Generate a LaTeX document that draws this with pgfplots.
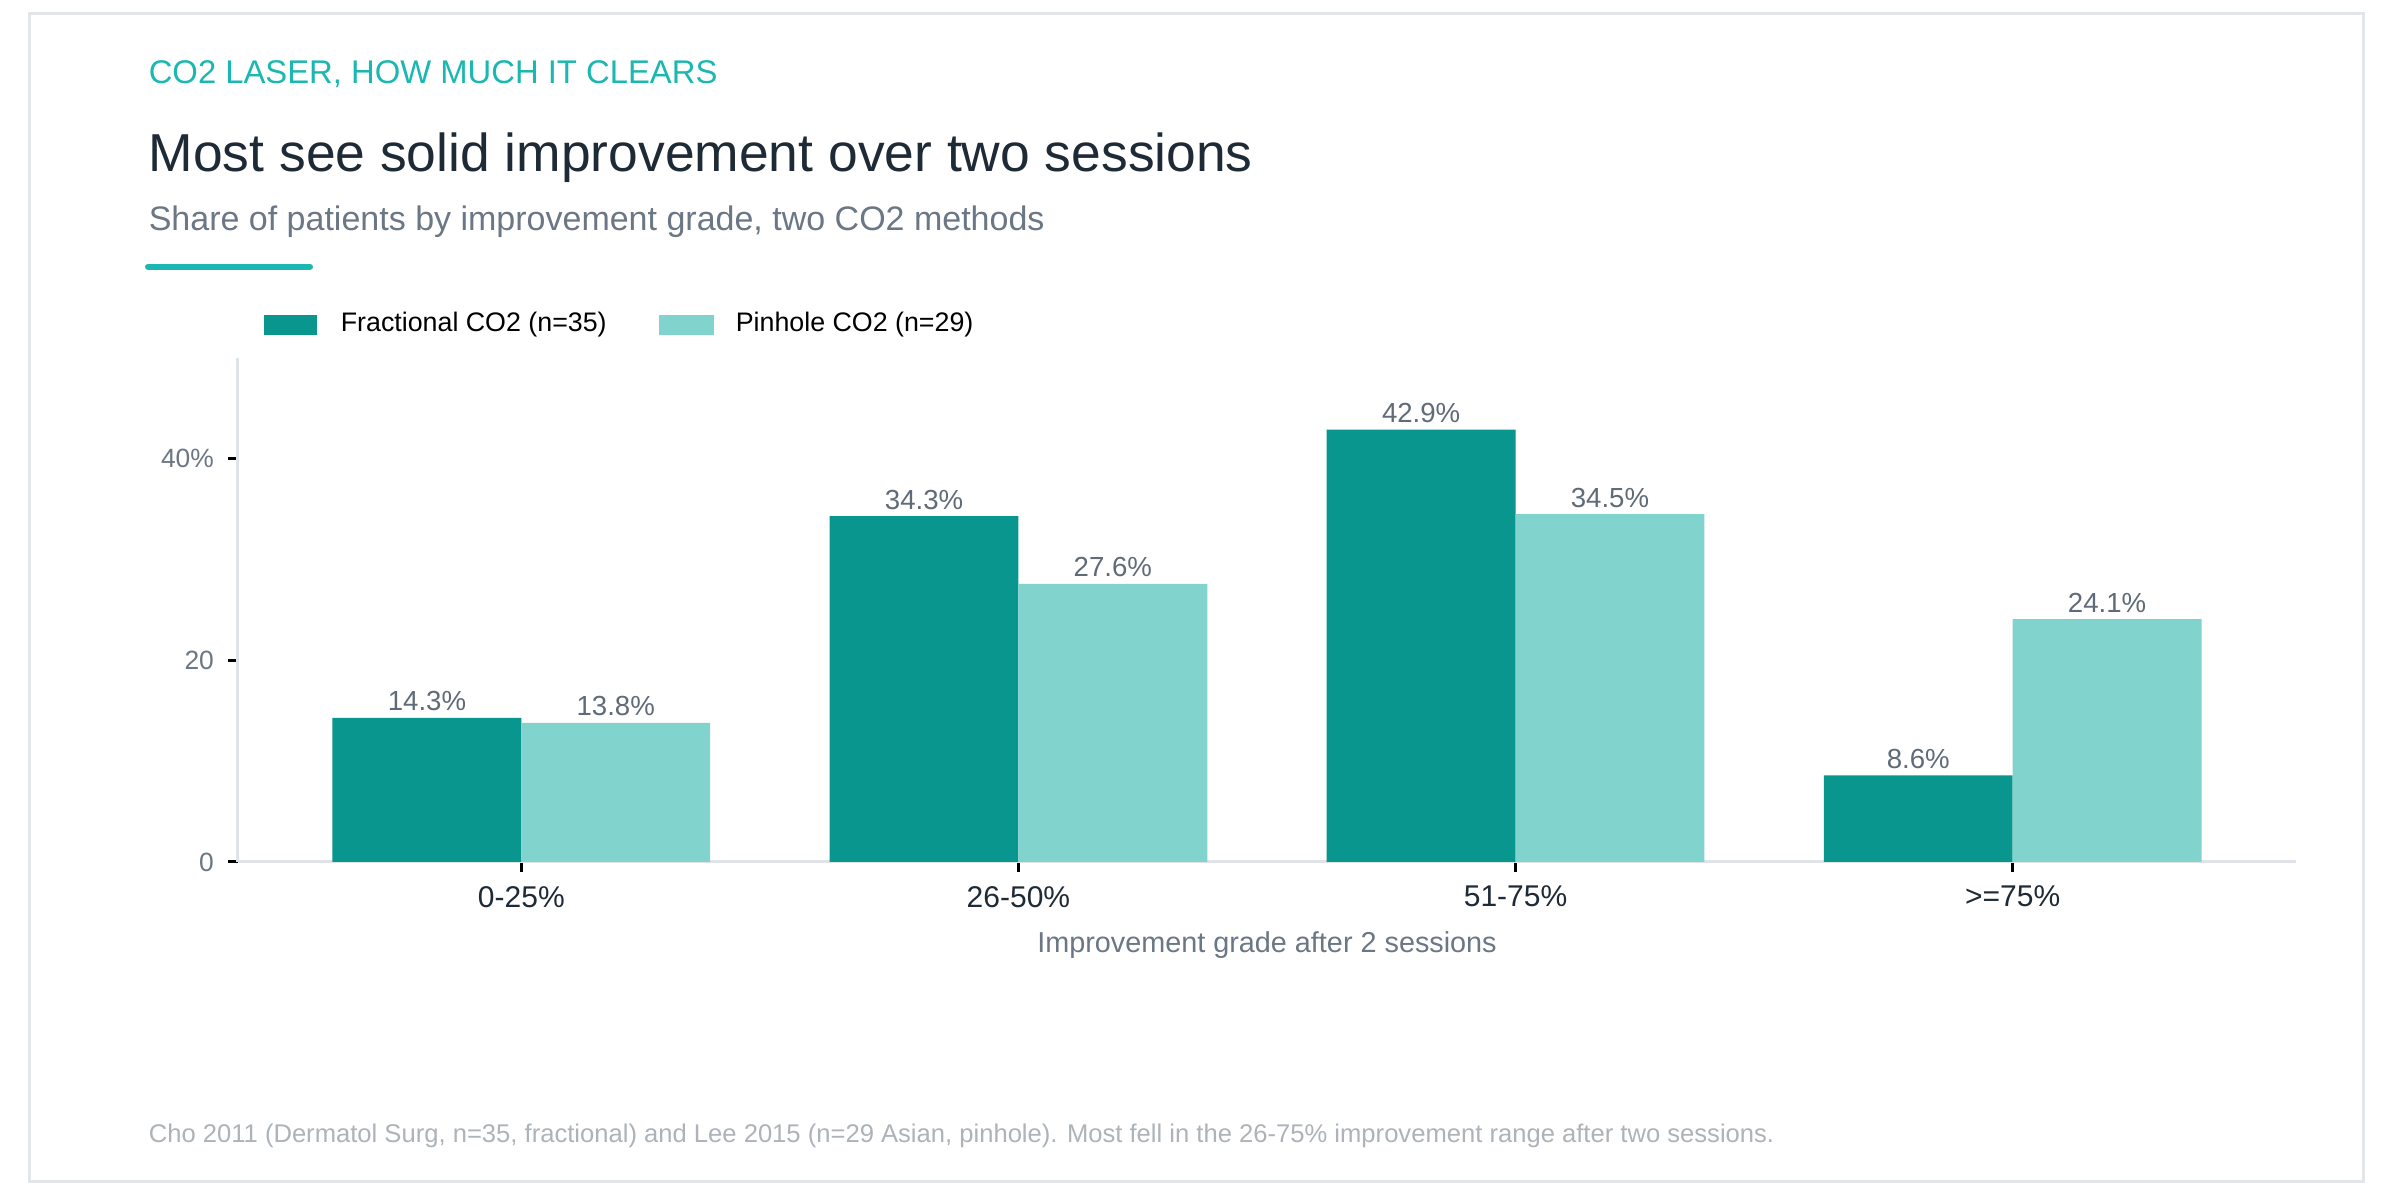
\documentclass[border=0pt]{standalone}
\usepackage{pgfplots}
\pgfplotsset{compat=1.18}
\usepackage{fontspec}
\setmainfont{Liberation Sans}
\definecolor{darkteal}{HTML}{08968E}
\definecolor{lightteal}{HTML}{81D4CE}
\definecolor{eyebrow}{HTML}{1AB8B0}
\definecolor{titlecol}{HTML}{1E2A35}
\definecolor{subcol}{HTML}{6B7785}
\definecolor{bordergray}{HTML}{E3E6E8}
\definecolor{axisgray}{HTML}{E0E4E8}
\definecolor{footcol}{HTML}{ADB3B9}
\definecolor{labcol}{HTML}{5F6B77}
\begin{document}
\begin{tikzpicture}
\useasboundingbox (0,0) rectangle (598pt,299pt);
\fill[white] (0,0) rectangle (598pt,299pt);
\draw[bordergray, line width=0.75pt] (7.25pt,3.5pt) rectangle (590.75pt,295.5pt);
\node[anchor=base west, inner sep=0, text=eyebrow, font=\fontsize{8.2}{10}\selectfont] at (37pt,278pt) {CO2 LASER, HOW MUCH IT CLEARS};
\node[anchor=base west, inner sep=0, text=titlecol, font=\fontsize{13.35}{16}\selectfont] at (37pt,256pt) {Most see solid improvement over two sessions};
\node[anchor=base west, inner sep=0, text=subcol, font=\fontsize{8.5}{10}\selectfont] at (37pt,241.35pt) {Share of patients by improvement grade, two CO2 methods};
\draw[eyebrow, line width=1.5pt, line cap=round] (37pt,232.35pt) -- (77.5pt,232.35pt);
\fill[darkteal] (66pt,215.35pt) rectangle (79.25pt,220.35pt);
\node[anchor=west, inner sep=0, text=black, font=\fontsize{6.7}{8}\selectfont] at (85pt,217.85pt) {Fractional CO2 (n=35)};
\fill[lightteal] (164.75pt,215.35pt) rectangle (178.5pt,220.35pt);
\node[anchor=west, inner sep=0, text=black, font=\fontsize{6.7}{8}\selectfont] at (183.75pt,217.85pt) {Pinhole CO2 (n=29)};
\node[anchor=base west, inner sep=0, text=footcol, font=\fontsize{6.4}{7.5}\selectfont] at (37pt,13.25pt) {Cho 2011 (Dermatol Surg, n=35, fractional) and Lee 2015 (n=29 Asian, pinhole). Most fell in the 26-75\% improvement range after two sessions.};
\begin{axis}[
  at={(59.5pt,83.5pt)}, anchor=south west,
  scale only axis, width=514.5pt, height=126pt,
  xmin=-0.57, xmax=3.57, ymin=0, ymax=50,
  axis x line*=bottom, axis y line*=left,
  axis line style={axisgray, line width=0.75pt, -},
  xtick={0,1,2,3}, xticklabels={0-25\%,26-50\%,51-75\%,>=75\%},
  ytick={0,20,40}, yticklabels={0,20,40\%},
  tick align=outside, major tick length=2.5pt,
  tick style={black, line width=0.75pt},
  xticklabel style={font=\fontsize{7.5}{9}\selectfont, text=titlecol},
  yticklabel style={font=\fontsize{6.6}{8}\selectfont, text=subcol},
  xlabel={Improvement grade after 2 sessions},
  xlabel style={font=\fontsize{7.2}{9}\selectfont, text=subcol, at={(axis description cs:0.5,0)}, anchor=base, yshift=-22.75pt},
  /pgf/number format/assume math mode=true,
  nodes near coords={\pgfmathprintnumber[fixed,precision=1,fixed zerofill]{\pgfplotspointmeta}\%},
  every node near coord/.append style={font=\fontsize{6.9}{8}\selectfont, text=labcol, inner sep=1.5pt},
]
\addplot[ybar, bar width=0.38, bar shift=-0.19, fill=darkteal, draw=none,
  every node near coord/.append style={xshift=-23.6pt}] coordinates {(0,14.3) (1,34.3) (2,42.9) (3,8.6)};
\addplot[ybar, bar width=0.38, bar shift=0.19, fill=lightteal, draw=none,
  every node near coord/.append style={xshift=23.6pt}] coordinates {(0,13.8) (1,27.6) (2,34.5) (3,24.1)};
\end{axis}
\end{tikzpicture}
\end{document}
